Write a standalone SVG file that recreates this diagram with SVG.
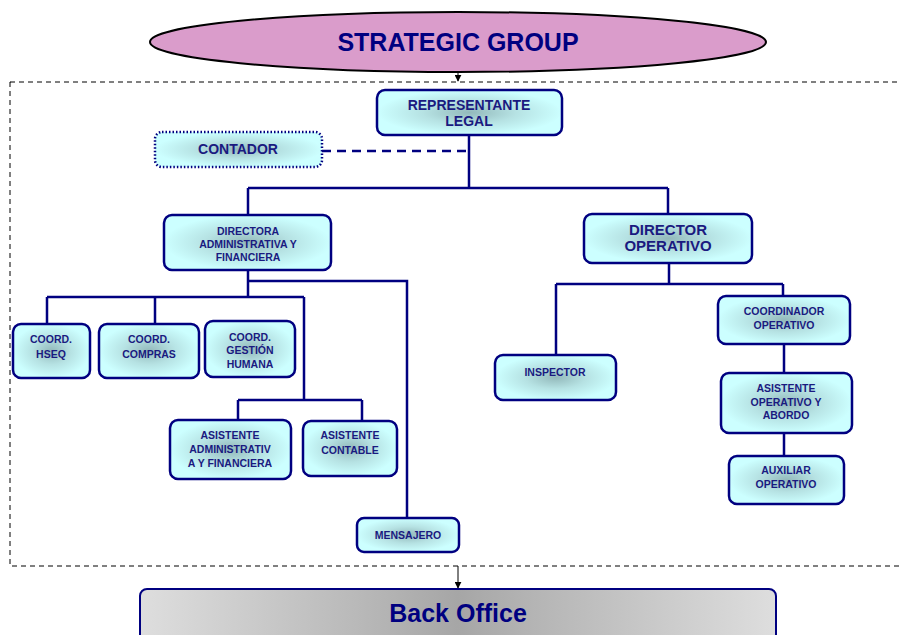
<svg xmlns="http://www.w3.org/2000/svg" width="900" height="635" viewBox="0 0 900 635">
<defs>
<radialGradient id="nodeFill" cx="50%" cy="50%" r="50%">
<stop offset="0" stop-color="#93b9bb"/>
<stop offset="0.5" stop-color="#b6e2e3"/>
<stop offset="1" stop-color="#ccffff"/>
</radialGradient>
<linearGradient id="boFill" x1="0" y1="0" x2="1" y2="0">
<stop offset="0" stop-color="#dedede"/>
<stop offset="0.35" stop-color="#b8b8b8"/>
<stop offset="0.5" stop-color="#a6a6a6"/>
<stop offset="0.65" stop-color="#b8b8b8"/>
<stop offset="1" stop-color="#dedede"/>
</linearGradient>
<marker id="arr" viewBox="0 0 10 10" refX="9" refY="5" markerWidth="7" markerHeight="7" orient="auto" markerUnits="userSpaceOnUse">
<path d="M0,0 L10,5 L0,10 z" fill="#000"/>
</marker>
<style>
.node{fill:url(#nodeFill);stroke:#000080;stroke-width:2.5}
.t{font-family:"Liberation Sans",Arial,sans-serif;font-weight:bold;fill:#1a1a80;text-anchor:middle}
.s{font-size:10.5px}
.m{font-size:14px}
.l{font-size:15px}
.big{font-size:25px;fill:#000080}
.c{fill:none;stroke:#000080;stroke-width:2.5}
</style>
</defs>
<rect x="10" y="82" width="900" height="484" fill="none" stroke="#000" stroke-width="1" stroke-dasharray="5,4"/>
<g id="strategic">
<ellipse cx="458" cy="42" rx="308" ry="30" fill="#da9ccb" stroke="#000" stroke-width="2"/>
<text class="t big" x="458" y="51">STRATEGIC GROUP</text>
</g>
<g id="connectors">
<line x1="458" y1="72" x2="458" y2="81" stroke="#000" stroke-width="1" marker-end="url(#arr)"/>
<line x1="458" y1="566" x2="458" y2="588" stroke="#000" stroke-width="1" marker-end="url(#arr)"/>
<path class="c" d="M469,135 V188 M248,188 H668 M248,188 V215 M668,188 V213"/>
<path class="c" d="M322,151 H469" stroke-dasharray="9,6"/>
<path class="c" d="M248,270 V297 M47,297 H304 M47,297 V324 M155,297 V324 M304,297 V400 M248,281 H407 V518 M238,400 H362 M238,400 V420 M362,400 V421"/>
<path class="c" d="M669,263 V284 M556,284 H783 M556,284 V355 M783,284 V296 M784,344 V373 M784,433 V456"/>
</g>
<g id="representante">
<rect class="node" x="377" y="90" width="185" height="45" rx="8"/>
<text class="t m" x="469" y="110">REPRESENTANTE</text>
<text class="t m" x="469" y="126">LEGAL</text>
</g>
<g id="contador">
<rect x="155" y="132" width="167" height="35" rx="7" fill="url(#nodeFill)" stroke="#000080" stroke-width="2.5" stroke-dasharray="1.5,2"/>
<text class="t m" x="238" y="154">CONTADOR</text>
</g>
<g id="directora">
<rect class="node" x="164" y="215" width="167" height="55" rx="8"/>
<text class="t s" x="248" y="235">DIRECTORA</text>
<text class="t s" x="248" y="248">ADMINISTRATIVA Y</text>
<text class="t s" x="248" y="261">FINANCIERA</text>
</g>
<g id="director-operativo">
<rect class="node" x="584" y="214" width="168" height="49" rx="8"/>
<text class="t l" x="668" y="235">DIRECTOR</text>
<text class="t l" x="668" y="251">OPERATIVO</text>
</g>
<g id="hseq">
<rect class="node" x="13" y="324" width="77" height="54" rx="8"/>
<text class="t s" x="51" y="343">COORD.</text>
<text class="t s" x="51" y="358">HSEQ</text>
</g>
<g id="compras">
<rect class="node" x="99" y="324" width="100" height="54" rx="8"/>
<text class="t s" x="149" y="343">COORD.</text>
<text class="t s" x="149" y="358">COMPRAS</text>
</g>
<g id="gestion">
<rect class="node" x="205" y="321" width="90" height="56" rx="8"/>
<text class="t s" x="250" y="341">COORD.</text>
<text class="t s" x="250" y="354">GESTIÓN</text>
<text class="t s" x="250" y="368">HUMANA</text>
</g>
<g id="asistente-admin">
<rect class="node" x="170" y="420" width="121" height="59" rx="8"/>
<text class="t s" x="230" y="439">ASISTENTE</text>
<text class="t s" x="230" y="453">ADMINISTRATIV</text>
<text class="t s" x="230" y="467">A Y FINANCIERA</text>
</g>
<g id="asistente-contable">
<rect class="node" x="303" y="421" width="94" height="55" rx="8"/>
<text class="t s" x="350" y="439">ASISTENTE</text>
<text class="t s" x="350" y="454">CONTABLE</text>
</g>
<g id="mensajero">
<rect class="node" x="357" y="518" width="102" height="34" rx="7"/>
<text class="t s" x="408" y="539">MENSAJERO</text>
</g>
<g id="inspector">
<rect class="node" x="495" y="355" width="121" height="45" rx="8"/>
<text class="t s" x="555" y="376">INSPECTOR</text>
</g>
<g id="coordinador">
<rect class="node" x="718" y="296" width="132" height="48" rx="8"/>
<text class="t s" x="784" y="315">COORDINADOR</text>
<text class="t s" x="784" y="329">OPERATIVO</text>
</g>
<g id="asistente-operativo">
<rect class="node" x="721" y="373" width="131" height="60" rx="8"/>
<text class="t s" x="786" y="392">ASISTENTE</text>
<text class="t s" x="786" y="406">OPERATIVO Y</text>
<text class="t s" x="786" y="419">ABORDO</text>
</g>
<g id="auxiliar">
<rect class="node" x="729" y="456" width="115" height="48" rx="8"/>
<text class="t s" x="786" y="474">AUXILIAR</text>
<text class="t s" x="786" y="488">OPERATIVO</text>
</g>
<g id="backoffice">
<rect x="140" y="589" width="636" height="60" rx="7" fill="url(#boFill)" stroke="#000080" stroke-width="2"/>
<text class="t big" x="458" y="622">Back Office</text>
</g>
</svg>
